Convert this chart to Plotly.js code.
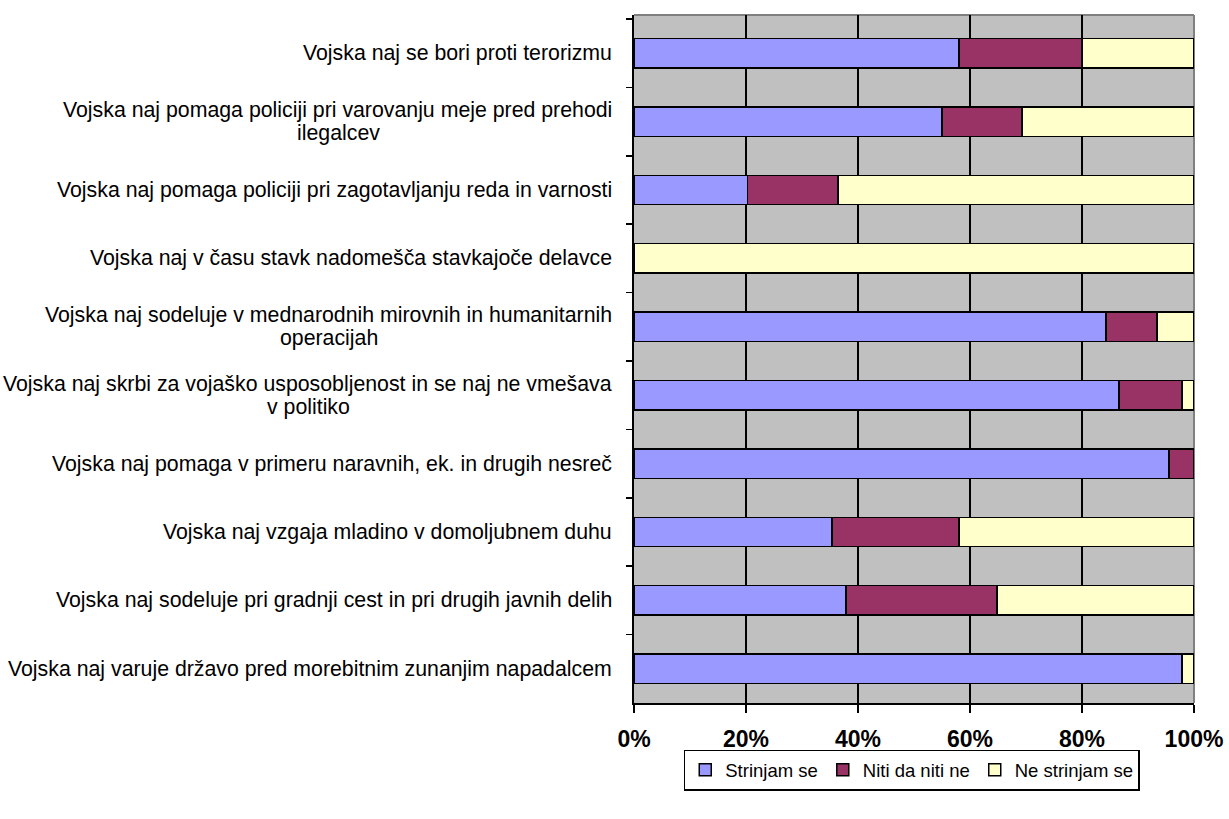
<!DOCTYPE html>
<html>
<head>
<meta charset="utf-8">
<script src="https://cdn.plot.ly/plotly-3.0.1.min.js"></script>
<style>
html,body{margin:0;padding:0;background:#fff;}
#chart{width:1229px;height:819px;}
</style>
</head>
<body>
<div id="chart"></div>
<script>
// ---- data ----
var categories = [
  "Vojska naj se bori proti terorizmu",
  "Vojska naj pomaga policiji pri varovanju meje pred prehodi ilegalcev",
  "Vojska naj pomaga policiji pri zagotavljanju reda in varnosti",
  "Vojska naj v času stavk nadomešča stavkajoče delavce",
  "Vojska naj sodeluje v mednarodnih mirovnih in humanitarnih operacijah",
  "Vojska naj skrbi za vojaško usposobljenost in se naj ne vmešava v politiko",
  "Vojska naj pomaga v primeru naravnih, ek. in drugih nesreč",
  "Vojska naj vzgaja mladino v domoljubnem duhu",
  "Vojska naj sodeluje pri gradnji cest in pri drugih javnih delih",
  "Vojska naj varuje državo pred morebitnim zunanjim napadalcem"
];
var labelLines = [
  ["Vojska naj se bori proti terorizmu"],
  ["Vojska naj pomaga policiji pri varovanju meje pred prehodi", "ilegalcev"],
  ["Vojska naj pomaga policiji pri zagotavljanju reda in varnosti"],
  ["Vojska naj v času stavk nadomešča stavkajoče delavce"],
  ["Vojska naj sodeluje v mednarodnih mirovnih in humanitarnih", "operacijah"],
  ["Vojska naj skrbi za vojaško usposobljenost in se naj ne vmešava", "v politiko"],
  ["Vojska naj pomaga v primeru naravnih, ek. in drugih nesreč"],
  ["Vojska naj vzgaja mladino v domoljubnem duhu"],
  ["Vojska naj sodeluje pri gradnji cest in pri drugih javnih delih"],
  ["Vojska naj varuje državo pred morebitnim zunanjim napadalcem"]
];
var seriesNames = ["Strinjam se", "Niti da niti ne", "Ne strinjam se"];
var strinjam   = [58.0, 55.0, 20.3, 0,   84.3, 86.6, 95.5, 35.4, 37.9, 97.9];
var niti       = [22.0, 14.3, 16.1, 0,    9.1, 11.3,  4.5, 22.6, 26.9,  0];
var neStrinjam = [20.0, 30.7, 63.6, 100,  6.6,  2.1,  0,   42.0, 35.2,  2.1];
var xTickVals = [0, 20, 40, 60, 80, 100];
var xTickText = ["0%", "20%", "40%", "60%", "80%", "100%"];
var gridVals = [20, 40, 60, 80];

// ---- styles ----
var colors = ["#9999FF", "#993366", "#FFFFCC"];
var FONT = "Liberation Sans, Arial, sans-serif";
var labelSize = 21.3;

var seriesValues = [strinjam, niti, neStrinjam];
var traces = seriesValues.map(function(vals, i){
  return {
    type: "bar", orientation: "h",
    x: vals, y: categories,
    name: seriesNames[i],
    marker: {color: colors[i], line: {color: "#000", width: 1.5}},
    width: 0.43,
    hoverinfo: "skip"
  };
});
// invisible trace to carry the grid axis
traces.push({type:"scatter", x:[0], y:[categories[0]], xaxis:"x2", mode:"markers",
  marker:{opacity:0}, showlegend:false, hoverinfo:"skip"});

// measure text widths for centering the second lines
var cv = document.createElement("canvas").getContext("2d");
cv.font = labelSize + "px 'Liberation Sans'";
var rightShift = -20;
var annotations = [];
labelLines.forEach(function(lines, i){
  var f = {family:FONT, size:labelSize, color:"#000"};
  if (lines.length === 1) {
    annotations.push({xref:"paper", yref:"y", x:0, y:categories[i], xanchor:"right", yanchor:"middle",
      xshift:rightShift, text:lines[0], showarrow:false, font:f});
  } else {
    var w1 = cv.measureText(lines[0]).width;
    annotations.push({xref:"paper", yref:"y", x:0, y:categories[i], xanchor:"right", yanchor:"middle",
      xshift:rightShift, yshift:11.5, text:lines[0], showarrow:false, font:f});
    annotations.push({xref:"paper", yref:"y", x:0, y:categories[i], xanchor:"center", yanchor:"middle",
      xshift:rightShift - w1/2 - 1, yshift:-11.5, text:lines[1], showarrow:false, font:f});
  }
});

var layout = {
  width: 1229, height: 819,
  margin: {l: 634, r: 35, t: 15, b: 115.5},
  paper_bgcolor: "#ffffff",
  plot_bgcolor: "#C0C0C0",
  barmode: "stack",
  showlegend: true,
  font: {family: FONT, color: "#000"},
  xaxis: {
    range: [0, 100], tickmode: "array", tickvals: xTickVals, ticktext: xTickText,
    showgrid: false, zeroline: false,
    showline: true, linecolor: "#000", linewidth: 2,
    ticks: "outside", ticklen: 8, tickwidth: 2, tickcolor: "#000",
    tickfont: {family: FONT, size: 23, color: "#000", weight: "bold"},
    ticklabelstandoff: 6,
    fixedrange: true
  },
  xaxis2: {
    overlaying: "x", range: [0, 100], tickmode: "array", tickvals: gridVals,
    showgrid: true, gridcolor: "#000", gridwidth: 2,
    showticklabels: false, ticks: "", zeroline: false, showline: false,
    side: "bottom", fixedrange: true
  },
  yaxis: {
    type: "category", categoryorder: "array", categoryarray: categories,
    autorange: "reversed",
    showticklabels: false, showgrid: false, zeroline: false,
    showline: true, linecolor: "#000", linewidth: 2,
    ticks: "outside", ticklen: 6, tickwidth: 1.5, tickcolor: "#000",
    tickson: "boundaries",
    fixedrange: true
  },
  legend: {
    orientation: "h", x: 0.496, xanchor: "center", y: -0.068, yanchor: "top",
    bordercolor: "#000", borderwidth: 1.5, bgcolor: "#fff",
    font: {family: FONT, size: 18.5, color: "#000"},
    traceorder: "normal", itemclick: false, itemdoubleclick: false
  },
  shapes: [
    {type:"line", xref:"paper", yref:"paper", x0:0, x1:1, y0:1, y1:1, line:{color:"#808080", width:2}, layer:"below"},
    {type:"line", xref:"paper", yref:"paper", x0:1, x1:1, y0:0, y1:1, line:{color:"#808080", width:2}, layer:"below"}
  ],
  annotations: annotations
};

Plotly.newPlot("chart", traces, layout, {staticPlot: true, displayModeBar: false});
</script>
</body>
</html>
